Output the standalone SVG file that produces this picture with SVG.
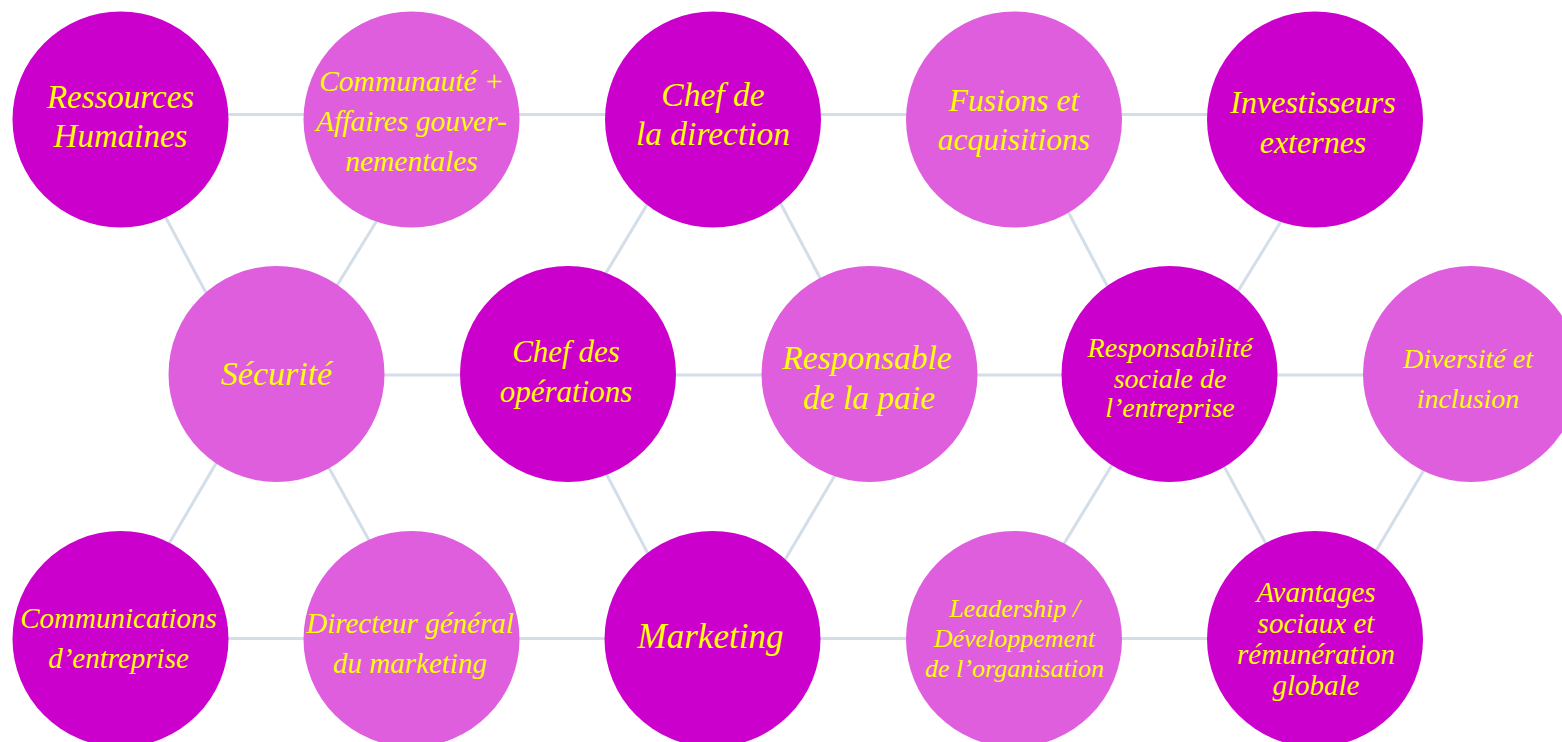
<svg xmlns="http://www.w3.org/2000/svg" width="1562" height="742" viewBox="0 0 1562 742">
  <style>
    .link { stroke: #D3DEE9; stroke-width: 3; fill: none; }
    .dark { fill: #CC00CC; }
    .light { fill: #DE5EDE; }
    text { font-family: "Liberation Serif", "Times New Roman", serif; font-style: italic; fill: #FFFF00; text-anchor: middle; }
  </style>
  <rect width="1562" height="742" fill="#FFFFFF"/>

  <!-- connectors (drawn under the circles) -->
  <g id="connectors">
    <line class="link" x1="120" y1="114.5" x2="1315" y2="114.5"/>
    <line class="link" x1="276" y1="375" x2="1471" y2="375"/>
    <line class="link" x1="120" y1="638.5" x2="1315" y2="638.5"/>
    <line class="link" x1="151" y1="190" x2="220" y2="319"/>
    <line class="link" x1="392" y1="196" x2="322" y2="310"/>
    <line class="link" x1="663" y1="178" x2="591" y2="298"/>
    <line class="link" x1="766" y1="176" x2="835" y2="306"/>
    <line class="link" x1="1054" y1="185" x2="1122" y2="314"/>
    <line class="link" x1="1296" y1="197" x2="1224" y2="314"/>
    <line class="link" x1="228.5" y1="442" x2="156.5" y2="565"/>
    <line class="link" x1="318.5" y1="449" x2="380" y2="560"/>
    <line class="link" x1="595" y1="452" x2="659" y2="575"/>
    <line class="link" x1="847" y1="455" x2="773" y2="580"/>
    <line class="link" x1="1126" y1="442" x2="1051" y2="565"/>
    <line class="link" x1="1213" y1="446" x2="1277" y2="564"/>
    <line class="link" x1="1437" y1="448" x2="1363" y2="573"/>
  </g>

  <!-- top row -->
  <g id="ressources-humaines">
    <circle class="dark" cx="120.5" cy="119.5" r="108"/>
    <text font-size="33" x="120.5" y="108">Ressources</text>
    <text font-size="33" x="120.5" y="147">Humaines</text>
  </g>
  <g id="communaute-affaires">
    <circle class="light" cx="411.5" cy="119.5" r="108"/>
    <text font-size="29.5" x="411.5" y="91">Communauté +</text>
    <text font-size="29.5" x="411.5" y="131">Affaires gouver-</text>
    <text font-size="29.5" x="411.5" y="171">nementales</text>
  </g>
  <g id="chef-direction">
    <circle class="dark" cx="713" cy="119.5" r="108"/>
    <text font-size="33.5" x="713" y="106">Chef de</text>
    <text font-size="33.5" x="713" y="145">la direction</text>
  </g>
  <g id="fusions-acquisitions">
    <circle class="light" cx="1014" cy="119.5" r="108"/>
    <text font-size="31.5" x="1014" y="111">Fusions et</text>
    <text font-size="31.5" x="1014" y="150">acquisitions</text>
  </g>
  <g id="investisseurs-externes">
    <circle class="dark" cx="1315" cy="119.5" r="108"/>
    <text font-size="32" x="1313" y="113">Investisseurs</text>
    <text font-size="32" x="1313" y="153">externes</text>
  </g>

  <!-- middle row -->
  <g id="securite">
    <circle class="light" cx="276.5" cy="374" r="108"/>
    <text font-size="34" x="276.5" y="385">Sécurité</text>
  </g>
  <g id="chef-operations">
    <circle class="dark" cx="568" cy="374" r="108"/>
    <text font-size="31" x="566" y="362">Chef des</text>
    <text font-size="31" x="566" y="402">opérations</text>
  </g>
  <g id="responsable-paie">
    <circle class="light" cx="869.5" cy="374" r="108"/>
    <text font-size="33.5" x="867" y="369">Responsable</text>
    <text font-size="33.5" x="869" y="409">de la paie</text>
  </g>
  <g id="responsabilite-sociale">
    <circle class="dark" cx="1169.5" cy="374" r="108"/>
    <text font-size="28" x="1170" y="357">Responsabilité</text>
    <text font-size="28" x="1170" y="388">sociale de</text>
    <text font-size="28" x="1170" y="417">l’entreprise</text>
  </g>
  <g id="diversite-inclusion">
    <circle class="light" cx="1471" cy="374" r="108"/>
    <text font-size="28" x="1468" y="368">Diversité et</text>
    <text font-size="28" x="1468" y="408">inclusion</text>
  </g>

  <!-- bottom row -->
  <g id="communications-entreprise">
    <circle class="dark" cx="120.5" cy="639" r="108"/>
    <text font-size="29" x="118.5" y="628">Communications</text>
    <text font-size="29" x="118.5" y="668">d’entreprise</text>
  </g>
  <g id="directeur-marketing">
    <circle class="light" cx="411.5" cy="639" r="108"/>
    <text font-size="29" x="410" y="633">Directeur général</text>
    <text font-size="29" x="410" y="673">du marketing</text>
  </g>
  <g id="marketing">
    <circle class="dark" cx="712.5" cy="639" r="108"/>
    <text font-size="35" x="710.5" y="648">Marketing</text>
  </g>
  <g id="leadership-developpement">
    <circle class="light" cx="1014" cy="639" r="108"/>
    <text font-size="26" x="1014.5" y="617">Leadership /</text>
    <text font-size="26" x="1014.5" y="647">Développement</text>
    <text font-size="26" x="1014.5" y="677">de l’organisation</text>
  </g>
  <g id="avantages-sociaux">
    <circle class="dark" cx="1315" cy="639" r="108"/>
    <text font-size="29" x="1316" y="602">Avantages</text>
    <text font-size="29" x="1316" y="633">sociaux et</text>
    <text font-size="29" x="1316" y="664">rémunération</text>
    <text font-size="29" x="1316" y="695">globale</text>
  </g>
</svg>
